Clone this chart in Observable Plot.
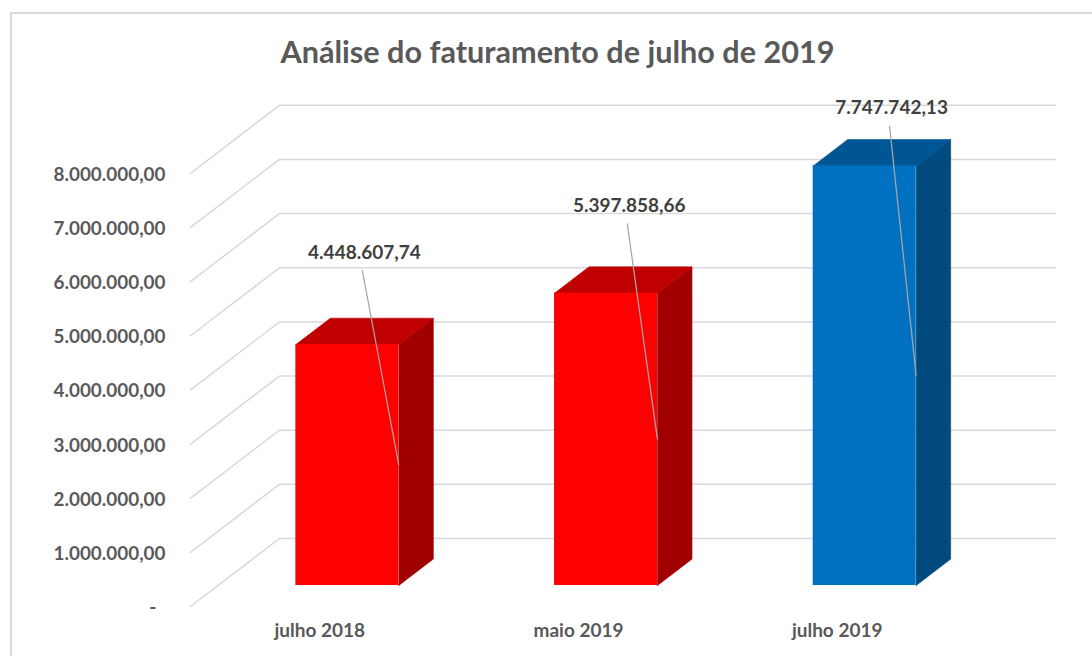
<!DOCTYPE html>
<html lang="pt">
<head>
<meta charset="utf-8">
<script src="https://cdn.jsdelivr.net/npm/d3@7"></script>
<script src="https://cdn.jsdelivr.net/npm/@observablehq/plot@0.6"></script>
<style>
  html, body { margin: 0; padding: 0; background: #fff; }
  #frame { position: relative; width: 1092px; height: 656px; overflow: hidden; font-family: Lato, sans-serif; }
  #frame .border { position: absolute; left: 10px; top: 12px; width: 1100px; height: 660px; border: 2px solid #d9d9d9; box-sizing: border-box; }
  #frame h1 { position: absolute; left: 0; top: 34px; width: 1115px; margin: 0; text-align: center; font: 700 30.6px/36px Lato, sans-serif; color: #595959; }
  #frame svg { position: absolute; left: 0; top: 0; }
</style>
</head>
<body>
<div id="frame"><div class="border"></div><h1>Análise do faturamento de julho de 2019</h1></div>
<script>
const categories = ["julho 2018", "maio 2019", "julho 2019"];
const values = [4448607.74, 5397858.66, 7747742.13];
const frontColors = ["#ff0000", "#ff0000", "#0070c0"];
const sideColors = ["#a00000", "#a00000", "#004a7e"];
const topColors = ["#c00000", "#c00000", "#005694"];
const yTicks = [0, 1e6, 2e6, 3e6, 4e6, 5e6, 6e6, 7e6, 8e6];
// Data-label placement relative to each bar's front-top centre (category units, value units)
const labelShiftX = [0.066, 0.09, 0.104];
const labelShiftY = [1.7e6, 1.62e6, 1.07e6];

// Oblique projection expressed in data units
const depthX = 0.344, depthY = 1.256e6;
const d0 = 0.309, d1 = 0.697, halfWidth = 0.199;
const fmt = new Intl.NumberFormat("pt-BR", {minimumFractionDigits: 2, maximumFractionDigits: 2});
const X = (x, d) => x + d * depthX;
const Y = (v, d) => v + d * depthY;

const grid = yTicks.flatMap((v) => [
  {id: v, x: 0, y: v},
  {id: v, x: depthX, y: Y(v, 1)},
  {id: v, x: 3 + depthX, y: Y(v, 1)}
]);

const bars = categories.map((c, i) => {
  const cx = i + 0.5;
  return {c, v: values[i], x1: X(cx - halfWidth, d0), x2: X(cx + halfWidth, d0),
          bx1: X(cx - halfWidth, d1), bx2: X(cx + halfWidth, d1),
          front: frontColors[i], side: sideColors[i], top: topColors[i], i};
});
const poly = (id, color, pts) => [...pts, pts[0]].map(([x, y]) => ({id, color, x, y}));
const faces = bars.flatMap((b) => [
  ...poly(`s${b.i}`, b.side, [[b.x2, Y(0, d0)], [b.bx2, Y(0, d1)], [b.bx2, Y(b.v, d1)], [b.x2, Y(b.v, d0)]]),
  ...poly(`t${b.i}`, b.top, [[b.x1, Y(b.v, d0)], [b.bx1, Y(b.v, d1)], [b.bx2, Y(b.v, d1)], [b.x2, Y(b.v, d0)]])
]);
const labels = bars.map((b) => ({
  text: fmt.format(b.v),
  x: (b.x1 + b.x2) / 2 + labelShiftX[b.i],
  y: Y(b.v, d0) + labelShiftY[b.i],
  ex: b.x2,
  ey: Y(b.v / 2, d0)
}));

const chart = Plot.plot({
  width: 1092, height: 656,
  marginLeft: 190, marginRight: 37, marginTop: 105, marginBottom: 50,
  style: {fontFamily: "Lato, sans-serif", background: "transparent", overflow: "visible"},
  x: {type: "linear", domain: [0, 3 + depthX]},
  y: {type: "linear", domain: [0, 9.252e6]},
  color: {type: "identity"},
  marks: [
    Plot.line(grid, {x: "x", y: "y", z: "id", stroke: "#d9d9d9", strokeWidth: 1.5}),
    Plot.line(faces, {x: "x", y: "y", z: "id", fill: "color", stroke: "color", strokeWidth: 0.6}),
    Plot.rect(bars, {x1: "x1", x2: "x2", y1: () => Y(0, d0), y2: (d) => Y(d.v, d0), fill: "front", inset: 0}),
    Plot.axisY({ticks: yTicks, tickSize: 0, tickPadding: 25, dy: 1.5, anchor: "left", fontSize: 18.9, fontWeight: 700, fill: "#595959",
      tickFormat: (v) => v === 0 ? "-\u00A0\u00A0" : fmt.format(v), label: null}),
    Plot.axisX({ticks: [0.5, 1.5, 2.5], tickSize: 0, tickPadding: 17, anchor: "bottom", fontSize: 19, fontWeight: 700, fill: "#595959",
      tickFormat: (x) => categories[Math.floor(x)], label: null}),
    Plot.link(labels, {x1: (d) => d.x - 0.008, y1: (d) => d.y - 0.33e6, x2: "ex", y2: "ey", stroke: "#a6a6a6", strokeWidth: 1.25}),
    Plot.text(labels, {x: "x", y: "y", text: "text", fontSize: 19, fontWeight: 700, fill: "#404040"})
  ]
});
document.getElementById("frame").appendChild(chart);
</script>
</body>
</html>
